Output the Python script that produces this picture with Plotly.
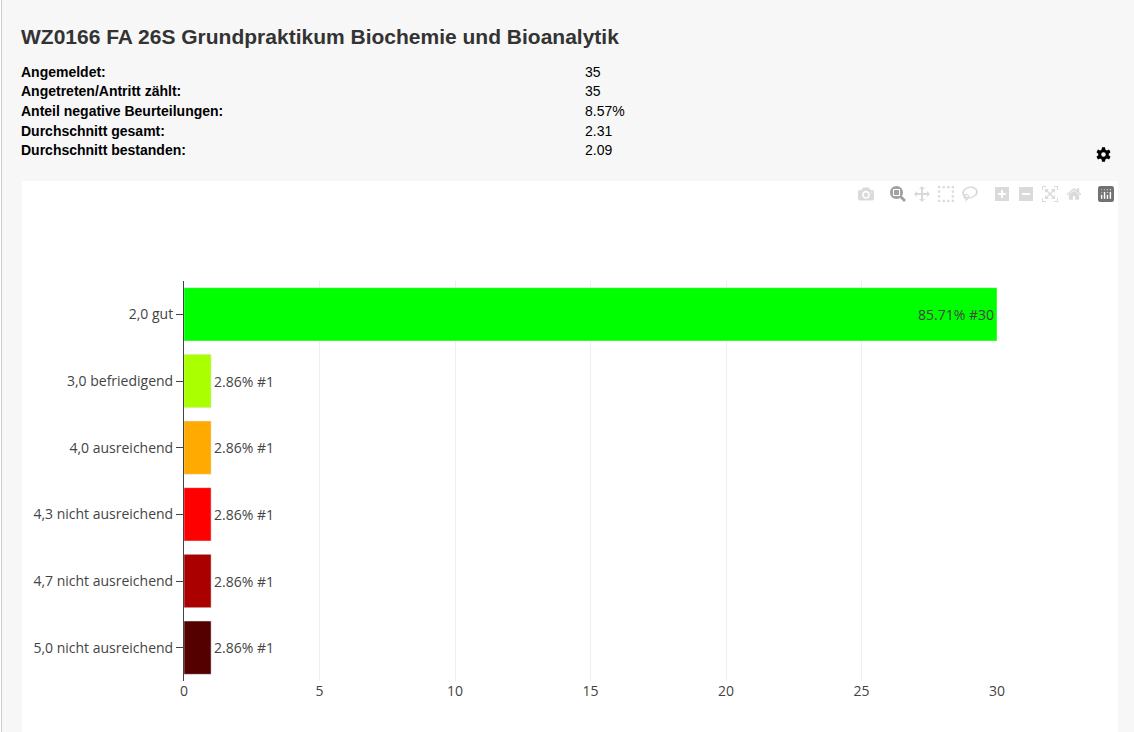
import math
import plotly.graph_objects as go

# values
grades = ["2,0 gut", "3,0 befriedigend", "4,0 ausreichend",
          "4,3 nicht ausreichend", "4,7 nicht ausreichend", "5,0 nicht ausreichend"]
counts = [30, 1, 1, 1, 1, 1]
percent = ["85.71%", "2.86%", "2.86%", "2.86%", "2.86%", "2.86%"]
colors = ["#00ff00", "#aaff00", "#ffaa00", "#ff0000", "#aa0000", "#550000"]

title = "WZ0166 FA 26S Grundpraktikum Biochemie und Bioanalytik"
stat_names = ["Angemeldet:", "Angetreten/Antritt zählt:", "Anteil negative Beurteilungen:",
              "Durchschnitt gesamt:", "Durchschnitt bestanden:"]
stat_values = ["35", "35", "8.57%", "2.31", "2.09"]
stat_rows = [72, 91, 111, 131, 150]

W, H = 1134, 732
left, right, top, bottom = 184, 997, 281, 681


# page pixels -> paper coordinates
def px(x):
    return (x - left) / (right - left)


def py(y):
    return (bottom - y) / (bottom - top)


labels = [p + " #" + str(c) for p, c in zip(percent, counts)]

fig = go.Figure(go.Bar(
    x=counts, y=grades, orientation="h", text=labels, textposition="auto",
    marker=dict(color=colors), cliponaxis=False,
    textfont=dict(color="#444444", size=14), hoverinfo="x+y",
))


def note(x, y, text, size=14, bold=False, color="#000000", family="Liberation Sans"):
    fig.add_annotation(xref="paper", yref="paper", x=px(x), y=py(y), text="<b>" + text + "</b>" if bold else text,
                       showarrow=False, xanchor="left", yanchor="middle", align="left",
                       font=dict(size=size, color=color, family=family))


note(19, 37, title, size=21, bold=True, color="#333333")
for row, name, val in zip(stat_rows, stat_names, stat_values):
    note(19, row, name, bold=True)
    note(583, row, val)


def rect(x0, x1, y0, y1, fill):
    fig.add_shape(type="rect", xref="paper", yref="paper", x0=px(x0), x1=px(x1), y0=py(y1), y1=py(y0),
                  fillcolor=fill, line_width=0, layer="below")


# page pieces: white panel behind the chart, thin border on the left
rect(22, 1118, 181, 732, "#ffffff")
rect(0, 1, 0, 732, "#ffffff")
rect(1, 2, 0, 732, "#cccccc")

# settings cog above the chart
cx, cy = 1103.5, 154.5
pts = []
for i in range(6):
    for off, r in [(-0.36, 5.3), (-0.2, 7.4), (0.2, 7.4), (0.36, 5.3)]:
        a = i * math.pi / 3 + math.pi / 6 + off
        pts.append((px(cx + r * math.cos(a)), py(cy + r * math.sin(a))))
cog = "M " + " L ".join(f"{a:.5f},{b:.5f}" for a, b in pts) + " Z"
fig.add_shape(type="path", xref="paper", yref="paper", path=cog, fillcolor="#000000", line_width=0)
fig.add_shape(type="circle", xref="paper", yref="paper", x0=px(cx - 2.3), x1=px(cx + 2.3), y0=py(cy + 2.3),
              y1=py(cy - 2.3), fillcolor="#f7f7f7", line_width=0)

fig.update_layout(
    width=W, height=H, autosize=False, showlegend=False, bargap=0.2,
    paper_bgcolor="#f7f7f7", plot_bgcolor="rgba(0,0,0,0)",
    margin=dict(l=left, r=W - right, t=top, b=H - bottom),
    font=dict(family="Open Sans", size=14, color="#444444"),
    xaxis=dict(range=[0, 30], tick0=0, dtick=5, showgrid=True, gridcolor="#eeeeee", zeroline=False,
               showline=False, ticks=""),
    yaxis=dict(autorange="reversed", type="category", showgrid=False, showline=True, linecolor="#444444",
               linewidth=1, ticks="outside", ticklen=7, tickcolor="#444444", zeroline=False),
    modebar=dict(bgcolor="rgba(0,0,0,0)", color="rgba(68,68,68,0.2)", activecolor="rgba(68,68,68,0.5)"),
)

# modebar sits on the white panel, not at the top of the page
css = """
var s = document.createElement('style');
s.innerHTML = 'html,body{margin:0;padding:0;overflow:hidden} .modebar{top:183px !important; right:16px !important;} .modebar-btn--logo{opacity:.55}';
document.head.appendChild(s);
"""
fig.write_html("out.html", config=dict(displayModeBar=True, displaylogo=True), post_script=css)
